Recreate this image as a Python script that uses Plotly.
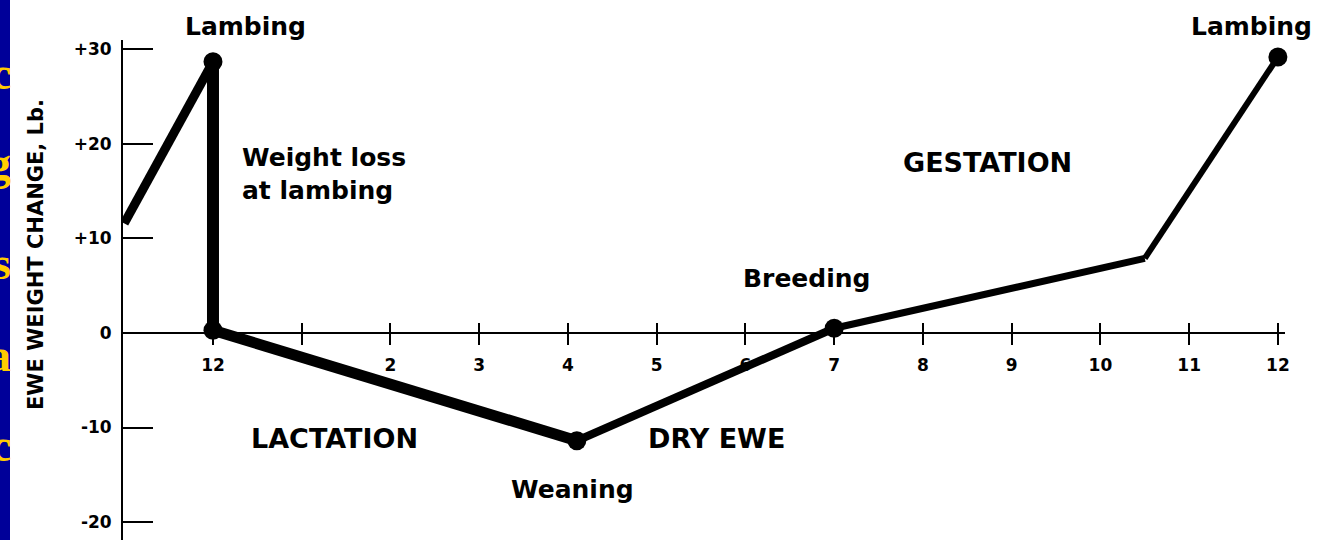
import plotly.graph_objects as go

# ---- data ----
months = [-1.0, 0.0, 0.0, 4.1, 7.0, 10.5, 12.0]          # time, months after lambing
weight_change = [11.6, 28.7, 0.3, -11.4, 0.5, 7.9, 29.2]   # ewe weight change, lb
marker_idx = [1, 2, 3, 4, 6]                               # points drawn with a dot

month_ticks = [0, 1, 2, 3, 4, 5, 6, 7, 8, 9, 10, 11, 12]
month_labels = ["12", "", "2", "3", "4", "5", "6", "7", "8", "9", "10", "11", "12"]
y_ticks = [30, 20, 10, 0, -10, -20]
y_labels = ["+30", "+20", "+10", "0", "-10", "-20"]

phase_labels = ["Lambing", "Weight loss<br>at lambing", "GESTATION", "Breeding",
                "LACTATION", "DRY EWE", "Weaning", "Lambing"]
y_title = "EWE WEIGHT CHANGE, Lb."
side_letters = ["c", "g", "s", "a", "c"]

# ---- styles / layout ----
seg_widths = [9, 12, 11, 8, 7, 6]
W, H = 1317, 540
L, R, T, B = 123, 32, 40, 0
x_range = [-1.014, 12.08]
y_range = [-21.9, 31.0]
FONT = "DejaVu Sans"

def px(x):
    return (x - L) / (W - L - R)

def py(y):
    return (H - B - y) / (H - T - B)

fig = go.Figure()
for i in range(len(months) - 1):
    fig.add_trace(go.Scatter(
        x=months[i:i + 2], y=weight_change[i:i + 2], mode="lines",
        line=dict(color="black", width=seg_widths[i]),
        hoverinfo="skip", showlegend=False, cliponaxis=False))

fig.add_trace(go.Scatter(
    x=[months[i] for i in marker_idx], y=[weight_change[i] for i in marker_idx],
    mode="markers", marker=dict(color="black", size=19),
    showlegend=False, cliponaxis=False))

# empty trace to carry the overlaid tick axis
fig.add_trace(go.Scatter(x=[], y=[], xaxis="x2", showlegend=False))

zero_pos = (0 - y_range[0]) / (y_range[1] - y_range[0])

ann = []
label_pos = [
    (245, 27, "center"), (240, 174, "left"), (987, 162, "center"), (806, 278, "center"),
    (334, 438, "center"), (716, 438, "center"), (572, 489, "center"), (1251, 27, "center"),
]
for text, (x, y, anchor) in zip(phase_labels, label_pos):
    size = 27 if text.isupper() else 25
    ann.append(dict(text=text, x=px(x), y=py(y), xref="paper", yref="paper",
                    xanchor=anchor, yanchor="middle", align="left", showarrow=False,
                    font=dict(family=FONT, size=size, color="black", weight="bold")))

ann.append(dict(text=y_title, x=px(36), y=py(255), xref="paper", yref="paper",
                xanchor="center", yanchor="middle", textangle=-90, showarrow=False,
                font=dict(family=FONT, size=21, color="black", weight="bold")))

for letter, y in zip(side_letters, [74, 163, 263, 355, 445]):
    ann.append(dict(text=letter, x=px(13), y=py(y), xref="paper", yref="paper",
                    xanchor="right", yanchor="middle", showarrow=False,
                    font=dict(family="Liberation Serif", size=46, color="#FFCC00",
                              weight="bold")))

fig.update_layout(
    width=W, height=H,
    margin=dict(l=L, r=R, t=T, b=B, pad=0),
    paper_bgcolor="white", plot_bgcolor="white",
    showlegend=False,
    annotations=ann,
    shapes=[dict(type="rect", xref="paper", yref="paper",
                 x0=px(0), x1=px(10), y0=py(H), y1=py(0),
                 fillcolor="#000099", line=dict(width=0), layer="below")],
    xaxis=dict(range=x_range, anchor="free", position=zero_pos,
               showline=True, linecolor="black", linewidth=2,
               showgrid=False, zeroline=False,
               tickmode="array", tickvals=month_ticks, ticktext=month_labels,
               ticks="outside", ticklen=11, tickwidth=2, tickcolor="black",
               ticklabelstandoff=6,
               tickfont=dict(family=FONT, size=17, color="black", weight="bold")),
    xaxis2=dict(range=x_range, overlaying="x", matches="x", anchor="free",
                position=zero_pos, showline=False, showgrid=False, zeroline=False,
                tickmode="array", tickvals=month_ticks, showticklabels=False,
                ticks="inside", ticklen=10, tickwidth=2, tickcolor="black"),
    yaxis=dict(range=y_range, showline=True, linecolor="black", linewidth=2,
               showgrid=False, zeroline=False,
               tickmode="array", tickvals=y_ticks, ticktext=y_labels,
               ticks="inside", ticklen=30, tickwidth=2, tickcolor="black",
               ticklabelstandoff=6,
               tickfont=dict(family=FONT, size=17, color="black", weight="bold")),
)

fig.write_html("out.html",
               config={"displayModeBar": False, "staticPlot": True},
               post_script="document.body.style.margin='0';"
                           "document.body.style.overflow='hidden';")
